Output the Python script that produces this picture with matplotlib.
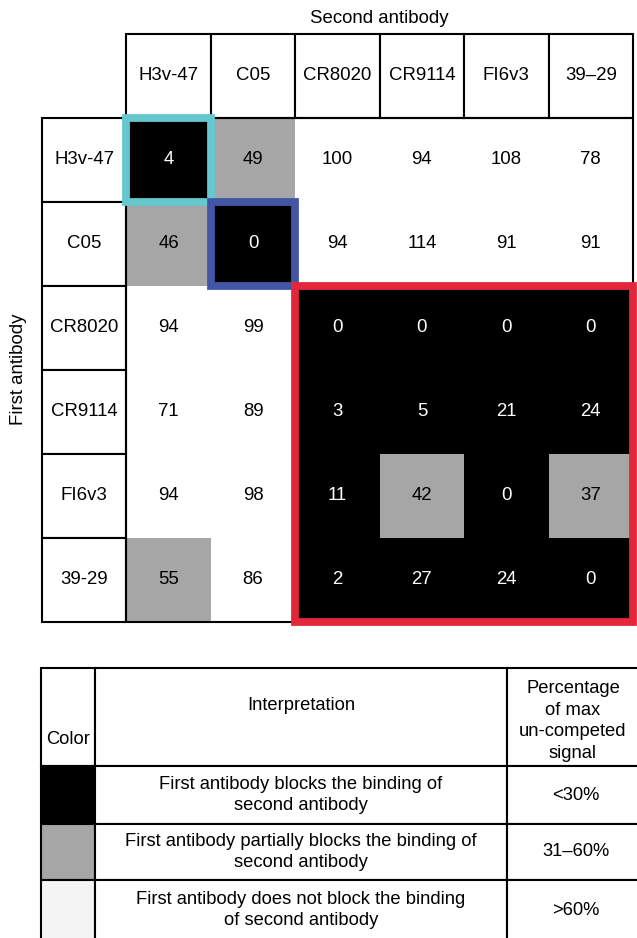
import numpy as np
import matplotlib.pyplot as plt
from matplotlib.colors import ListedColormap, BoundaryNorm
from matplotlib.patches import Rectangle

plt.rcParams['font.family'] = ['Liberation Sans', 'DejaVu Sans']

# Competition matrix: rows = first antibody, columns = second antibody (% of max signal)
anticuerpos_fila = ["H3v-47", "C05", "CR8020", "CR9114", "FI6v3", "39-29"]
anticuerpos_col = ["H3v-47", "C05", "CR8020", "CR9114", "FI6v3", "39–29"]
valores = np.array([
    [4, 49, 100, 94, 108, 78],
    [46, 0, 94, 114, 91, 91],
    [94, 99, 0, 0, 0, 0],
    [71, 89, 3, 5, 21, 24],
    [94, 98, 11, 42, 0, 37],
    [55, 86, 2, 27, 24, 0],
])

# Highlighted blocks: (first row, first col, n rows, n cols, colour)
bloques = [
    (0, 0, 1, 1, "#66c7cf"),
    (1, 1, 1, 1, "#4356a6"),
    (2, 2, 4, 4, "#e2273b"),
]

# Legend rows
colores_ley = ["#000000", "#a6a6a6", "#f4f4f4"]
textos_ley = [
    "First antibody blocks the binding of\nsecond antibody",
    "First antibody partially blocks the binding of\nsecond antibody",
    "First antibody does not block the binding\nof second antibody",
]
rangos_ley = ["<30%", "31–60%", ">60%"]

W, H = 637, 938
fig = plt.figure(figsize=(W / 100, H / 100), dpi=100)
fs = 13.4

# ---- competition grid ----
x0, x1, y0, y1 = 42, 633, 34, 621.5
ax = fig.add_axes([x0 / W, 1 - y1 / H, (x1 - x0) / W, (y1 - y0) / H])
ax.set_xlim(-1, 6)
ax.set_ylim(6, -1)
ax.axis("off")

cmap = ListedColormap(["#000000", "#a6a6a6", "#ffffff"])
norm = BoundaryNorm([0, 30.5, 60.5, 1000], cmap.N)
ax.pcolormesh(np.arange(7), np.arange(7), valores, cmap=cmap, norm=norm)

lw = 1.5
for i, nombre in enumerate(anticuerpos_fila):
    ax.add_patch(Rectangle((-1, i), 1, 1, facecolor="white", edgecolor="black", lw=lw, clip_on=False))
    ax.text(-0.5, i + 0.5, nombre, ha="center", va="center", fontsize=fs)
for j, nombre in enumerate(anticuerpos_col):
    ax.add_patch(Rectangle((j, -1), 1, 1, facecolor="white", edgecolor="black", lw=lw, clip_on=False))
    ax.text(j + 0.5, -0.5, nombre, ha="center", va="center", fontsize=fs)
ax.add_patch(Rectangle((0, 0), 6, 6, fill=False, edgecolor="black", lw=lw, clip_on=False))

for i in range(6):
    for j in range(6):
        v = valores[i, j]
        ax.text(j + 0.5, i + 0.5, str(v), ha="center", va="center", fontsize=fs,
                color="white" if v < 30 else "black")

for r, c, nr, nc, col in bloques:
    ax.add_patch(Rectangle((c, r), nc, nr, fill=False, edgecolor=col, lw=5.6,
                           joinstyle="miter", clip_on=False, zorder=5))

ax.text(3, -1.19, "Second antibody", ha="center", va="center", fontsize=fs)
ax.text(-1.28, 3, "First antibody", ha="center", va="center", rotation=90, fontsize=fs)

# ---- legend table ----
lx0, lx1, ly0, ly1 = 41, 645, 668, 940
axl = fig.add_axes([lx0 / W, 1 - ly1 / H, (lx1 - lx0) / W, (ly1 - ly0) / H])
axl.axis("off")
anchos = np.array([54, 412, 138]) / (lx1 - lx0)
altos = np.array([98, 58, 56, 60]) / (ly1 - ly0)

celdas = [["", "", ""]] + [["", t, r] for t, r in zip(textos_ley, rangos_ley)]
col_celdas = [["white"] * 3] + [[c, "white", "white"] for c in colores_ley]
tabla = axl.table(cellText=celdas, cellColours=col_celdas, colWidths=list(anchos),
                  cellLoc="center", bbox=[0, 0, 1, 1])
tabla.auto_set_font_size(False)
fl = 13.2
for (r, c), celda in tabla.get_celld().items():
    celda.set_height(altos[r])
    celda.set_linewidth(lw)
    t = celda.get_text()
    t.set_fontsize(fl)
    t.set_linespacing(1.3)

def yf(py):
    return (ly1 - py) / (ly1 - ly0)

axl.text(anchos[0] / 2, yf(740), "Color", ha="center", va="center", fontsize=fl)
axl.text(anchos[0] + anchos[1] / 2, yf(706), "Interpretation", ha="center", va="center", fontsize=fl)
axl.text((573 - lx0) / (lx1 - lx0), yf(721),
         "Percentage\nof max\nun-competed\nsignal", ha="center", va="center",
         fontsize=fl, linespacing=1.38)

fig.savefig("out.png", dpi=100)
